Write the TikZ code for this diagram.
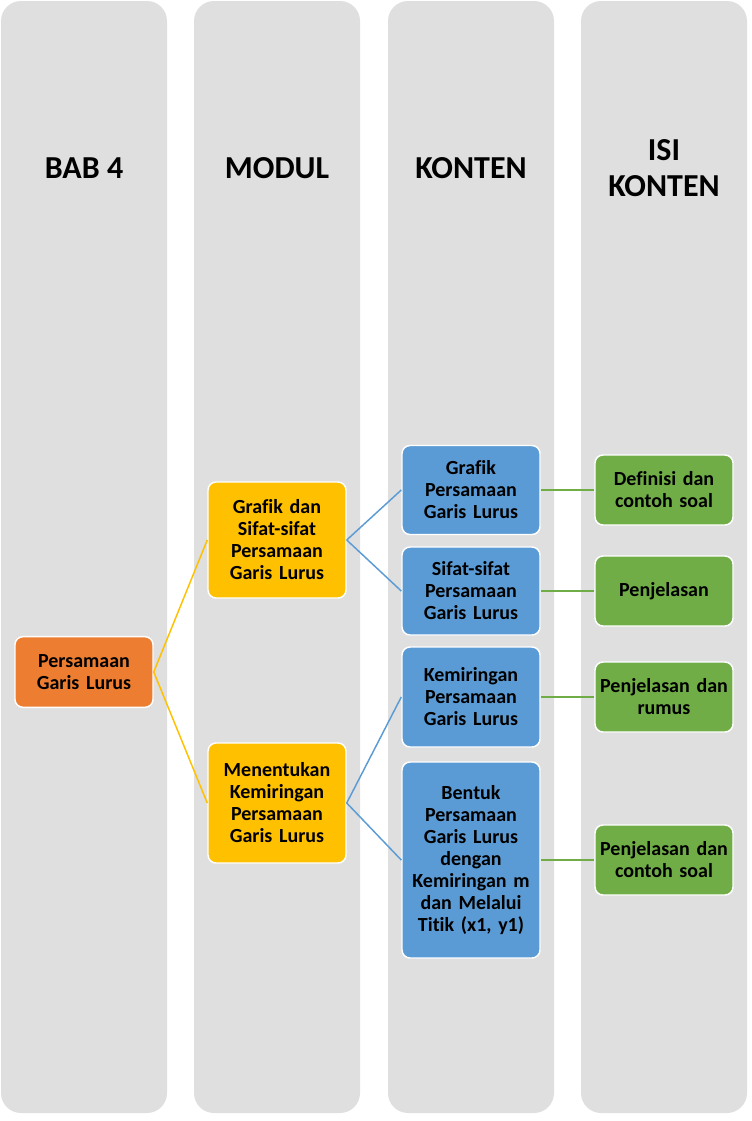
\documentclass[tikz,border=0pt]{standalone}
\usepackage{fontspec}
\setmainfont[Ligatures=NoCommon]{Carlito}
\definecolor{abu}{HTML}{DFDFDF}
\definecolor{oranye}{HTML}{ED7D31}
\definecolor{kuning}{HTML}{FFC000}
\definecolor{biru}{HTML}{5B9BD5}
\definecolor{hijau}{HTML}{70AD47}
\begin{document}
\begin{tikzpicture}[x=0.75pt,y=-0.75pt,
		lajur/.style={fill=abu,rounded corners=15pt},
		judul/.style={align=center,font=\bfseries\fontsize{24}{27}\selectfont},
		kotak/.style={draw=white,line width=1.1pt,rounded corners=6pt,minimum width=103.5pt,text width=97.5pt,inner sep=3pt,align=center,font=\bfseries\fontsize{15}{16.5}\selectfont},
		garis/.style={line width=1.1pt}]
		\useasboundingbox (0,0) rectangle (751,1121);
		\foreach \x in {1,194,388,581}
		    \fill[lajur] (\x,1) rectangle ++(166,1112);
		\node[judul] (bab) at (84,168) {BAB 4};
		\node[judul] (modul) at (277,168) {MODUL};
		\node[judul] (konten) at (471,168) {KONTEN};
		\node[judul] (isi) at (664,168) {ISI\\KONTEN};
		\node[kotak,fill=oranye,minimum height=53pt] (akar) at (84,672) {Persamaan\\Garis Lurus};
		\node[kotak,fill=kuning,minimum height=87pt] (modul1) at (277,540) {Grafik dan\\Sifat-sifat\\Persamaan\\Garis Lurus};
		\node[kotak,fill=kuning,minimum height=90pt] (modul2) at (277,803) {Menentukan\\Kemiringan\\Persamaan\\Garis Lurus};
		\node[kotak,fill=biru,minimum height=66.75pt] (konten1) at (471,490) {Grafik\\Persamaan\\Garis Lurus};
		\node[kotak,fill=biru,minimum height=66pt] (konten2) at (471,591) {Sifat-sifat\\Persamaan\\Garis Lurus};
		\node[kotak,fill=biru,minimum height=75pt] (konten3) at (471,697) {Kemiringan\\Persamaan\\Garis Lurus};
		\node[kotak,fill=biru,minimum height=147pt] (konten4) at (471,860) {Bentuk\\Persamaan\\Garis Lurus\\dengan\\Kemiringan m\\dan Melalui\\Titik (x1, y1)};
		\node[kotak,fill=hijau,minimum height=52.5pt] (isi1) at (664,490) {Definisi dan\\contoh soal};
		\node[kotak,fill=hijau,minimum height=52.5pt] (isi2) at (664,591) {Penjelasan};
		\node[kotak,fill=hijau,minimum height=52.5pt] (isi3) at (664,697) {Penjelasan dan\\rumus};
		\node[kotak,fill=hijau,minimum height=52.5pt] (isi4) at (664,860) {Penjelasan dan\\contoh soal};
		\draw[garis,kuning] (akar.east) -- (modul1.west);
		\draw[garis,kuning] (akar.east) -- (modul2.west);
		\draw[garis,biru] (modul1.east) -- (konten1.west);
		\draw[garis,biru] (modul1.east) -- (konten2.west);
		\draw[garis,biru] (modul2.east) -- (konten3.west);
		\draw[garis,biru] (modul2.east) -- (konten4.west);
		\foreach \i in {1,...,4}
		    \draw[garis,hijau] (konten\i.east) -- (isi\i.west);
	    \end{tikzpicture}
\end{document}
